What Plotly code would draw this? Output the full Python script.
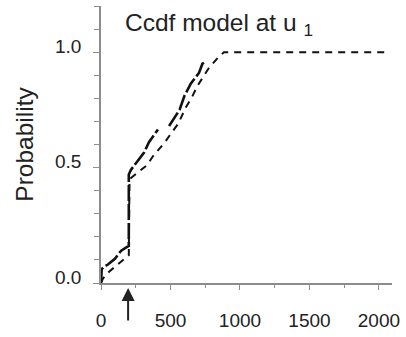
import plotly.graph_objects as go

# Empirical ccdf at threshold u1 (sample curve; None marks the break in the trace)
emp_x = [0, 0, 5, 20, 50, 100, 145, 185, 200, 200, 215, 265, 310, 345, 395, 410, None,
         490, 510, 565, 600, 647, 705, 730, 755]
emp_y = [0.0, 0.04, 0.06, 0.07, 0.08, 0.105, 0.14, 0.155, 0.16, 0.47, 0.49, 0.53,
         0.565, 0.61, 0.65, 0.665, None, 0.68, 0.70, 0.75, 0.81, 0.865, 0.91, 0.95, 0.96]

# Fitted model ccdf
mod_x = [0, 15, 60, 130, 180, 200, 205, 255, 330, 375, 460, 495, 555, 610, 650,
         695, 775, 840, 885, 2080]
mod_y = [0.0, 0.02, 0.05, 0.085, 0.11, 0.12, 0.45, 0.475, 0.51, 0.55, 0.61, 0.64,
         0.69, 0.76, 0.80, 0.855, 0.93, 0.975, 1.0, 1.0]

u1 = 195
x_ticks = [0, 500, 1000, 1500, 2000]
y_ticks = [0.0, 0.5, 1.0]

FONT = "Liberation Sans, Arial, Helvetica, sans-serif"
AXIS = "#8c8c8c"
TEXT = "#222222"

fig = go.Figure()
fig.add_trace(go.Scatter(x=mod_x, y=mod_y, mode="lines",
                         line=dict(color="#111111", width=2, dash="7px,6px"),
                         showlegend=False, hoverinfo="skip"))
fig.add_trace(go.Scatter(x=emp_x, y=emp_y, mode="lines", connectgaps=False,
                         line=dict(color="#111111", width=2.6, dash="16px,3px"),
                         showlegend=False, hoverinfo="skip"))

fig.add_annotation(xref="paper", yref="paper", x=0.075, y=0.935,
                   xanchor="left", yanchor="middle", showarrow=False,
                   text="Ccdf model at u <sub>1</sub>",
                   font=dict(family=FONT, size=24.5, color=TEXT))

# Arrow marking u1 below the axis
fig.add_annotation(xref="x", yref="paper", x=u1, y=-0.018,
                   ax=0, ay=34, showarrow=True, text="",
                   arrowhead=2, arrowsize=1.3, arrowwidth=2, arrowcolor="#222222")

fig.update_layout(
    width=406, height=337,
    margin=dict(l=101, r=11, t=6, b=35),
    paper_bgcolor="white", plot_bgcolor="white",
    font=dict(family=FONT, color=TEXT),
    xaxis=dict(range=[0, 2094], tickvals=x_ticks, ticks="outside", ticklen=5,
               tickcolor=AXIS, showline=True, linecolor=AXIS, linewidth=1.5,
               showgrid=False, zeroline=False, tickfont=dict(size=19, color=TEXT),
               ticklabelstandoff=14,
               minor=dict(dtick=250, tick0=0, ticks="outside", ticklen=3, tickcolor=AXIS)),
    yaxis=dict(range=[0, 1.2], tickvals=y_ticks, tickformat=".1f", ticks="outside",
               ticklen=6, tickcolor=AXIS, showline=True, linecolor=AXIS, linewidth=1.5,
               showgrid=False, zeroline=False, tickfont=dict(size=19, color=TEXT),
               ticklabelstandoff=8, ticklabelshift=-6,
               title=dict(text="Probability", font=dict(size=24.5, color=TEXT), standoff=14),
               minor=dict(dtick=0.1, tick0=0, ticks="outside", ticklen=5, tickcolor=AXIS)),
)

fig.write_html("out.html")
